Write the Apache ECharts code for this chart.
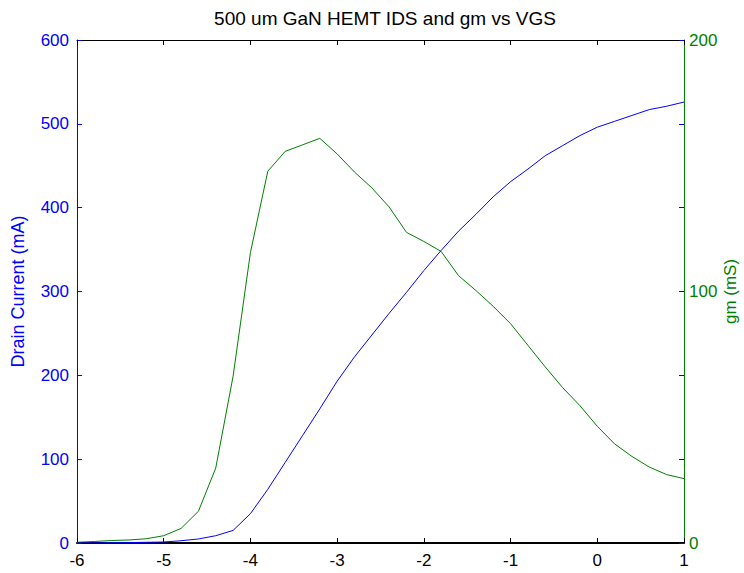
<!DOCTYPE html>
<html>
<head>
<meta charset="utf-8">
<script src="https://cdn.jsdelivr.net/npm/echarts@6/dist/echarts.min.js"></script>
<style>
  html, body { margin: 0; padding: 0; background: #ffffff; }
  #chart { width: 744px; height: 573px; }
</style>
</head>
<body>
<div id="chart"></div>
<script>
(function() {
  var font = 'Liberation Sans, Arial, sans-serif';
  var blue = '#0000ff';
  var green = '#008000';
  var ink = '#000000';

  // gate voltage sweep (V)
  var vgs = [-6.0, -5.8, -5.6, -5.4, -5.2, -5.0, -4.8, -4.6, -4.4, -4.2, -4.0, -3.8,
             -3.6, -3.4, -3.2, -3.0, -2.8, -2.6, -2.4, -2.2, -2.0, -1.8, -1.6, -1.4,
             -1.2, -1.0, -0.8, -0.6, -0.4, -0.2, 0.0, 0.2, 0.4, 0.6, 0.8, 1.0];
  // drain current (mA)
  var ids = [0, 0.2, 0.3, 0.5, 0.8, 1.2, 2.7, 4.8, 8.7, 15, 35, 64,
             96, 128, 160, 193, 222, 248, 274, 299, 325, 349, 372, 392,
             413, 431, 446, 462, 474, 486, 496, 503, 510, 517, 521, 526];
  // transconductance (mS)
  var gm = [0.3, 0.6, 1.0, 1.2, 1.7, 2.9, 5.8, 12.6, 29.8, 66.3, 115.5, 147.8,
            155.7, 158.3, 160.9, 154.7, 147.5, 141.2, 133.6, 123.5, 119.9, 115.9, 106.3, 100.4,
            94.1, 87.2, 78.6, 70.0, 61.8, 54.6, 46.4, 39.4, 34.4, 30.2, 27.2, 25.6];

  var idsData = vgs.map(function(v, i) { return [v, ids[i]]; });
  var gmData = vgs.map(function(v, i) { return [v, gm[i]]; });

  var chart = echarts.init(document.getElementById('chart'), null, { renderer: 'svg' });
  chart.setOption({
    animation: false,
    backgroundColor: '#ffffff',
    title: {
      text: '500 um GaN HEMT IDS and gm vs VGS',
      left: 380,
      top: 4,
      textAlign: 'center',
      textStyle: { fontFamily: font, fontSize: 19, fontWeight: 'normal', color: ink }
    },
    grid: { left: 77, right: 60, top: 40, bottom: 30, containLabel: false, outerBoundsMode: 'none' },
    xAxis: [{
      type: 'value',
      min: -6,
      max: 1,
      interval: 1,
      position: 'bottom',
      axisLine: { onZero: false, lineStyle: { color: ink, width: 2 } },
      axisTick: { inside: true, length: 5, lineStyle: { color: ink } },
      axisLabel: { color: ink, fontFamily: font, fontSize: 17, margin: 9 },
      splitLine: { show: false }
    }, {
      type: 'value',
      min: -6,
      max: 1,
      interval: 1,
      position: 'top',
      axisLine: { onZero: false, lineStyle: { color: ink, width: 1 } },
      axisTick: { inside: true, length: 5, lineStyle: { color: ink } },
      axisLabel: { show: false },
      splitLine: { show: false }
    }],
    yAxis: [{
      type: 'value',
      min: 0,
      max: 600,
      interval: 100,
      position: 'left',
      name: 'Drain Current (mA)',
      nameLocation: 'middle',
      nameGap: 50,
      nameMoveOverlap: false,
      nameTextStyle: { color: blue, fontFamily: font, fontSize: 18 },
      axisLine: { show: true, onZero: false, lineStyle: { color: blue } },
      axisTick: { inside: true, length: 5, lineStyle: { color: blue } },
      axisLabel: { color: blue, fontFamily: font, fontSize: 17, margin: 8 },
      splitLine: { show: false }
    }, {
      type: 'value',
      min: 0,
      max: 200,
      interval: 100,
      position: 'right',
      name: 'gm (mS)',
      nameLocation: 'middle',
      nameGap: 38,
      nameRotate: 90,
      nameMoveOverlap: false,
      nameTextStyle: { color: green, fontFamily: font, fontSize: 17 },
      axisLine: { show: true, onZero: false, lineStyle: { color: green } },
      axisTick: { inside: true, length: 5, lineStyle: { color: green } },
      axisLabel: { color: green, fontFamily: font, fontSize: 17, margin: 5 },
      splitLine: { show: false }
    }, {
      type: 'value',
      min: 0,
      max: 600,
      interval: 100,
      position: 'right',
      axisLine: { show: false, onZero: false },
      axisTick: { inside: true, length: 5, lineStyle: { color: blue } },
      axisLabel: { show: false },
      splitLine: { show: false }
    }],
    series: [{
      name: 'IDS',
      type: 'line',
      xAxisIndex: 0,
      yAxisIndex: 0,
      data: idsData,
      showSymbol: false,
      symbol: 'none',
      lineStyle: { color: blue, width: 1 },
      z: 3
    }, {
      name: 'gm',
      type: 'line',
      xAxisIndex: 0,
      yAxisIndex: 1,
      data: gmData,
      showSymbol: false,
      symbol: 'none',
      lineStyle: { color: green, width: 1 },
      z: 2
    }]
  });
  window.addEventListener('resize', function() { chart.resize(); });
})();
</script>
</body>
</html>
